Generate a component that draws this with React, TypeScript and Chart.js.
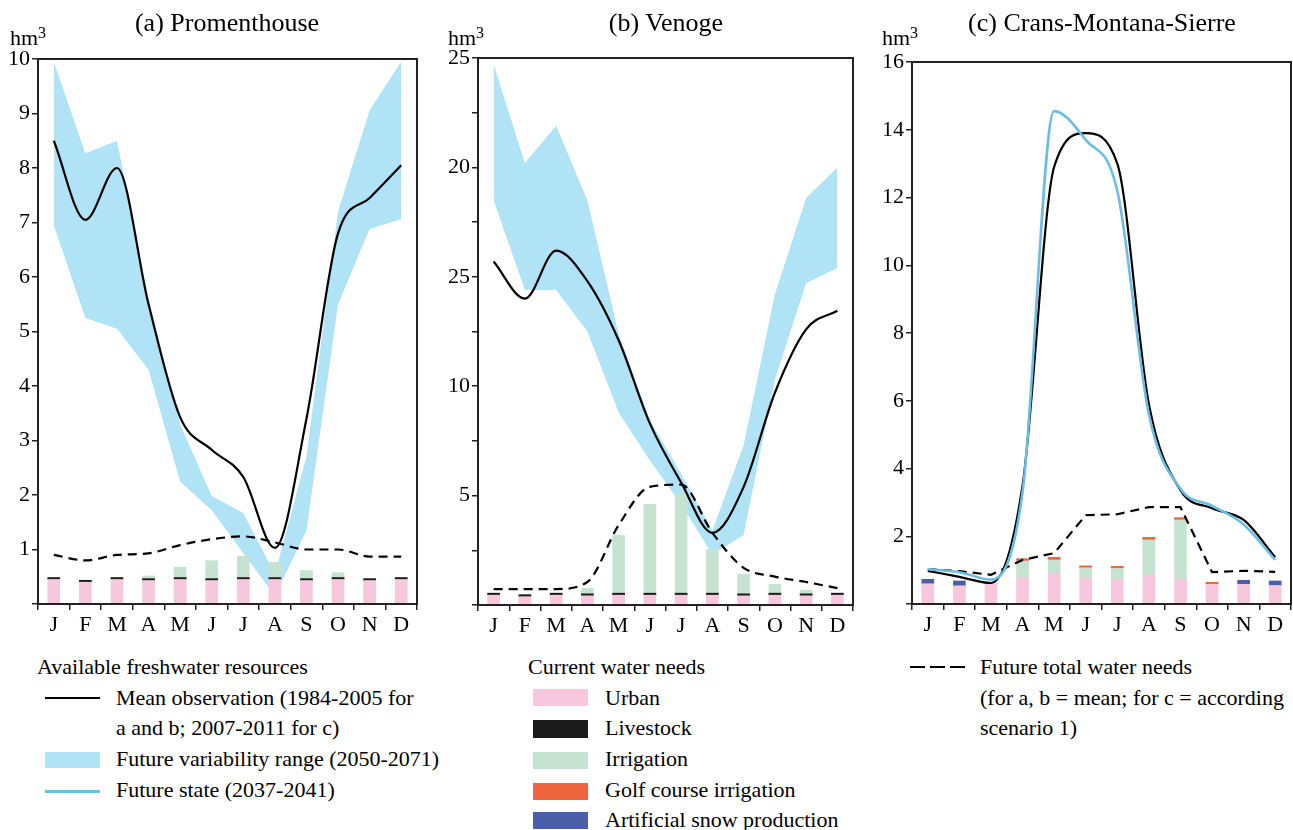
import React, { useEffect, useRef } from "react";
import { Chart, registerables } from "chart.js";

Chart.register(...registerables);

const FONT = '"Liberation Serif", "Times New Roman", serif';
Chart.defaults.font.family = FONT;

const months = ["J", "F", "M", "A", "M", "J", "J", "A", "S", "O", "N", "D"];

// (a) Promenthouse
const aUrban = [0.45, 0.4, 0.45, 0.43, 0.45, 0.43, 0.45, 0.45, 0.43, 0.45, 0.43, 0.45];
const aLivestock = [0.035, 0.035, 0.035, 0.035, 0.035, 0.035, 0.035, 0.035, 0.035, 0.035, 0.035, 0.035];
const aIrrigation = [0, 0, 0, 0.05, 0.19, 0.33, 0.39, 0.28, 0.15, 0.09, 0, 0];
const aMean = [8.5, 7.05, 8.0, 5.5, 3.43, 2.83, 2.33, 1.03, 3.4, 6.8, 7.45, 8.05];
const aBandLow = [6.95, 5.25, 5.05, 4.3, 2.25, 1.72, 0.93, 0.15, 1.35, 5.5, 6.88, 7.06];
const aBandHigh = [9.95, 8.27, 8.5, 5.6, 3.3, 1.98, 1.67, 0.55, 2.7, 7.2, 9.06, 9.95];
const aNeeds = [0.9, 0.8, 0.9, 0.93, 1.08, 1.19, 1.24, 1.13, 1.0, 1.0, 0.87, 0.87];
const yTicksA = ["", "1", "2", "3", "4", "5", "6", "7", "8", "9", "10"];

// (b) Venoge
const bUrban = [0.45, 0.38, 0.45, 0.42, 0.45, 0.45, 0.45, 0.45, 0.42, 0.45, 0.42, 0.45];
const bLivestock = [0.09, 0.09, 0.09, 0.09, 0.09, 0.09, 0.09, 0.09, 0.09, 0.09, 0.09, 0.09];
const bIrrigation = [0, 0, 0, 0.25, 2.64, 4.06, 4.56, 2.0, 0.89, 0.4, 0.17, 0];
const bMean = [15.7, 14.0, 16.2, 14.8, 12.1, 8.3, 5.6, 3.3, 5.4, 9.7, 12.6, 13.45];
const bBandLow = [18.5, 14.4, 14.4, 12.5, 8.8, 6.6, 4.6, 2.3, 3.2, 10.3, 14.7, 15.4];
const bBandHigh = [24.7, 20.2, 21.9, 18.5, 12.4, 8.45, 6.0, 3.4, 7.3, 14.2, 18.6, 20.0];
const bNeeds = [0.73, 0.73, 0.73, 1.05, 3.65, 5.4, 5.5, 3.3, 1.7, 1.3, 1.05, 0.77];
const yTicksB = ["", "", "5", "", "10", "", "25", "", "20", "", "25"];

// (c) Crans-Montana-Sierre
const cUrban = [0.59, 0.53, 0.61, 0.77, 0.9, 0.77, 0.73, 0.85, 0.73, 0.58, 0.58, 0.54];
const cIrrigation = [0, 0, 0, 0.5, 0.4, 0.3, 0.32, 1.04, 1.75, 0, 0, 0];
const cGolf = [0, 0, 0, 0.06, 0.07, 0.05, 0.06, 0.07, 0.06, 0.06, 0, 0];
const cSnow = [0.14, 0.15, 0, 0, 0, 0, 0, 0, 0, 0, 0.12, 0.14];
const cMean = [0.98, 0.8, 0.62, 3.5, 12.9, 13.9, 13.0, 5.9, 3.36, 2.83, 2.48, 1.38];
const cFuture = [1.03, 0.94, 0.72, 3.3, 14.55, 13.7, 12.2, 5.6, 3.4, 2.9, 2.35, 1.3];
const cNeeds = [1.03, 0.97, 0.86, 1.3, 1.5, 2.62, 2.65, 2.86, 2.86, 0.94, 0.98, 0.95];
const yTicksC = ["", "2", "4", "6", "8", "10", "12", "14", "16"];

const COLORS = {
  urban: "#f7c8dd",
  livestock: "#1a1a1a",
  irrigation: "#c6e3d1",
  golf: "#f1653d",
  snow: "#4b5fa9",
  band: "#b0e3f6",
  future: "#6bbde3",
  axis: "#222222",
};

const boxPlugin = {
  id: "boxFrame",
  afterDraw(chart: any) {
    const { ctx, chartArea } = chart;
    const { left, top, right, bottom } = chartArea;
    ctx.save();
    ctx.strokeStyle = COLORS.axis;
    ctx.lineWidth = 2;
    ctx.strokeRect(left, top, right - left, bottom - top);
    ctx.restore();
  },
};

type Geo = { left: number; width: number; height: number; aL: number; aT: number; aR: number; aB: number };

const X_H = 40;

function buildOptions(geo: Geo, yMax: number, yStep: number, yLabels: string[]) {
  return {
    responsive: false,
    maintainAspectRatio: false,
    animation: false,
    devicePixelRatio: 1,
    events: [],
    layout: {
      padding: {
        left: 0,
        top: geo.aT,
        right: geo.left + geo.width - geo.aR,
        bottom: geo.height - geo.aB - X_H,
      },
    },
    plugins: {
      legend: { display: false },
      tooltip: { enabled: false },
      title: { display: false },
    },
    scales: {
      x: {
        stacked: true,
        offset: true,
        grid: {
          offset: true,
          drawOnChartArea: false,
          drawTicks: true,
          tickLength: 6,
          color: COLORS.axis,
          lineWidth: 1.5,
        },
        border: { display: true, color: COLORS.axis, width: 2 },
        ticks: {
          color: "#000",
          font: { family: FONT, size: 22 },
          padding: 2,
          autoSkip: false,
          maxRotation: 0,
        },
        afterFit: (s: any) => {
          s.height = X_H;
        },
      },
      y: {
        stacked: true,
        min: 0,
        max: yMax,
        grid: {
          drawOnChartArea: false,
          drawTicks: true,
          tickLength: 6,
          color: COLORS.axis,
          lineWidth: 1.5,
        },
        border: { display: true, color: COLORS.axis, width: 2 },
        ticks: {
          stepSize: yStep,
          autoSkip: false,
          color: "#000",
          font: { family: FONT, size: 22 },
          padding: 2,
          callback: (_v: any, i: number) => yLabels[i] ?? "",
        },
        afterFit: (s: any) => {
          s.width = geo.aL - geo.left;
        },
      },
    },
  };
}

const bandLowDs = (data: number[]) => ({
  type: "line",
  data,
  borderWidth: 0,
  borderColor: "rgba(0,0,0,0)",
  pointRadius: 0,
  fill: false,
  tension: 0,
  order: 5,
  stack: "bandLow",
});
const bandHighDs = (data: number[]) => ({
  type: "line",
  data,
  borderWidth: 0,
  borderColor: "rgba(0,0,0,0)",
  backgroundColor: COLORS.band,
  pointRadius: 0,
  fill: "-1",
  tension: 0,
  order: 5,
  stack: "bandHigh",
});
const barDs = (data: number[], color: string) => ({
  type: "bar",
  data,
  backgroundColor: color,
  borderWidth: 0,
  barThickness: 12,
  stack: "needs",
  order: 3,
});
const lineDs = (data: number[], color: string, width: number, stack: string, order: number, dash: number[] = [], smooth = true) => ({
  type: "line",
  data,
  borderColor: color,
  borderWidth: width,
  borderDash: dash,
  pointRadius: 0,
  fill: false,
  cubicInterpolationMode: smooth ? "monotone" : "default",
  tension: smooth ? 0.4 : 0,
  stack,
  order,
});

const geoA: Geo = { left: 0, width: 430, height: 650, aL: 38, aT: 59, aR: 417, aB: 604 };
const geoB: Geo = { left: 440, width: 430, height: 650, aL: 478, aT: 58, aR: 853, aB: 605 };
const geoC: Geo = { left: 870, width: 423, height: 650, aL: 912, aT: 62, aR: 1291, aB: 604 };

function configA() {
  return {
    type: "bar",
    data: {
      labels: months,
      datasets: [
        bandLowDs(aBandLow),
        bandHighDs(aBandHigh),
        barDs(aUrban, COLORS.urban),
        barDs(aLivestock, COLORS.livestock),
        barDs(aIrrigation, COLORS.irrigation),
        lineDs(aNeeds, "#000", 2.2, "needsLine", 1, [9, 6]),
        lineDs(aMean, "#000", 2.2, "mean", 0),
      ],
    },
    options: buildOptions(geoA, 10, 1, yTicksA),
    plugins: [boxPlugin],
  };
}

function configB() {
  return {
    type: "bar",
    data: {
      labels: months,
      datasets: [
        bandLowDs(bBandLow),
        bandHighDs(bBandHigh),
        barDs(bUrban, COLORS.urban),
        barDs(bLivestock, COLORS.livestock),
        barDs(bIrrigation, COLORS.irrigation),
        lineDs(bNeeds, "#000", 2.2, "needsLine", 1, [9, 6]),
        lineDs(bMean, "#000", 2.2, "mean", 0),
      ],
    },
    options: buildOptions(geoB, 25, 2.5, yTicksB),
    plugins: [boxPlugin],
  };
}

function configC() {
  return {
    type: "bar",
    data: {
      labels: months,
      datasets: [
        barDs(cUrban, COLORS.urban),
        barDs(cIrrigation, COLORS.irrigation),
        barDs(cGolf, COLORS.golf),
        barDs(cSnow, COLORS.snow),
        lineDs(cNeeds, "#000", 2.2, "needsLine", 2, [9, 6], false),
        lineDs(cMean, "#000", 2.2, "mean", 1),
        lineDs(cFuture, COLORS.future, 2.6, "future", 0),
      ],
    },
    options: buildOptions(geoC, 16, 2, yTicksC),
    plugins: [boxPlugin],
  };
}

function PanelChart({ geo, build }: { geo: Geo; build: () => any }) {
  const ref = useRef<HTMLCanvasElement | null>(null);
  useEffect(() => {
    if (!ref.current) return;
    const chart = new Chart(ref.current, build());
    return () => {
      chart.destroy();
    };
  }, []);
  return (
    <canvas
      ref={ref}
      width={geo.width}
      height={geo.height}
      style={{ position: "absolute", left: geo.left, top: 0, width: geo.width, height: geo.height }}
    />
  );
}

const abs = (left: number, top: number, extra: React.CSSProperties = {}): React.CSSProperties => ({
  position: "absolute",
  left,
  top,
  whiteSpace: "nowrap",
  ...extra,
});

function Title({ text, center }: { text: string; center: number }) {
  return (
    <div style={abs(center - 200, 10, { width: 400, textAlign: "center", fontSize: 26, lineHeight: "26px" })}>{text}</div>
  );
}

function Unit({ left }: { left: number }) {
  return (
    <>
      <div style={abs(left, 27, { fontSize: 22, lineHeight: "22px" })}>hm</div>
      <div style={abs(left + 28, 25, { fontSize: 16, lineHeight: "16px" })}>3</div>
    </>
  );
}

const LEG_FS = 22;
function LegText({ x, y, text }: { x: number; y: number; text: string }) {
  return <div style={abs(x, y - 11, { fontSize: LEG_FS, lineHeight: `${LEG_FS}px` })}>{text}</div>;
}
function LegBox({ x, y0, y1, color }: { x: number; y0: number; y1: number; color: string }) {
  return <div style={abs(x, y0, { width: 55, height: y1 - y0, background: color })} />;
}
function LegLine({ x, y, color, h }: { x: number; y: number; color: string; h: number }) {
  return <div style={abs(x, y - h / 2, { width: 55, height: h, background: color })} />;
}

export default function App() {
  return (
    <div
      style={{
        position: "absolute",
        left: 0,
        top: 0,
        width: 1293,
        height: 830,
        overflow: "hidden",
        background: "#fff",
        fontFamily: FONT,
        color: "#000",
      }}
    >
      <PanelChart geo={geoA} build={configA} />
      <PanelChart geo={geoB} build={configB} />
      <PanelChart geo={geoC} build={configC} />

      <Title text="(a) Promenthouse" center={227} />
      <Title text="(b) Venoge" center={666} />
      <Title text="(c) Crans-Montana-Sierre" center={1102} />

      <Unit left={10} />
      <Unit left={448} />
      <Unit left={882} />

      {/* Legend column 1 */}
      <LegText x={37} y={667} text="Available freshwater resources" />
      <LegLine x={45} y={698} color="#000" h={2.5} />
      <LegText x={116} y={698} text="Mean observation (1984-2005 for" />
      <LegText x={116} y={728} text="a and b; 2007-2011 for c)" />
      <LegBox x={45} y0={752} y1={768} color={COLORS.band} />
      <LegText x={116} y={759} text="Future variability range (2050-2071)" />
      <LegLine x={45} y={791} color={COLORS.future} h={3} />
      <LegText x={116} y={790} text="Future state (2037-2041)" />

      {/* Legend column 2 */}
      <LegText x={528} y={667} text="Current water needs" />
      <LegBox x={533} y0={689} y1={706} color={COLORS.urban} />
      <LegText x={605} y={698} text="Urban" />
      <LegBox x={533} y0={720} y1={738} color={COLORS.livestock} />
      <LegText x={605} y={728} text="Livestock" />
      <LegBox x={533} y0={752} y1={769} color={COLORS.irrigation} />
      <LegText x={605} y={759} text="Irrigation" />
      <LegBox x={533} y0={783} y1={800} color={COLORS.golf} />
      <LegText x={605} y={790} text="Golf course irrigation" />
      <LegBox x={533} y0={812} y1={829} color={COLORS.snow} />
      <LegText x={605} y={820} text="Artificial snow production" />

      {/* Legend column 3 */}
      <svg style={abs(910, 662)} width={56} height={10}>
        <line x1={0} y1={5} x2={56} y2={5} stroke="#000" strokeWidth={2.2} strokeDasharray="15 5" />
      </svg>
      <LegText x={980} y={667} text="Future total water needs" />
      <LegText x={980} y={698} text="(for a, b = mean; for c = according" />
      <LegText x={980} y={728} text="scenario 1)" />
    </div>
  );
}
